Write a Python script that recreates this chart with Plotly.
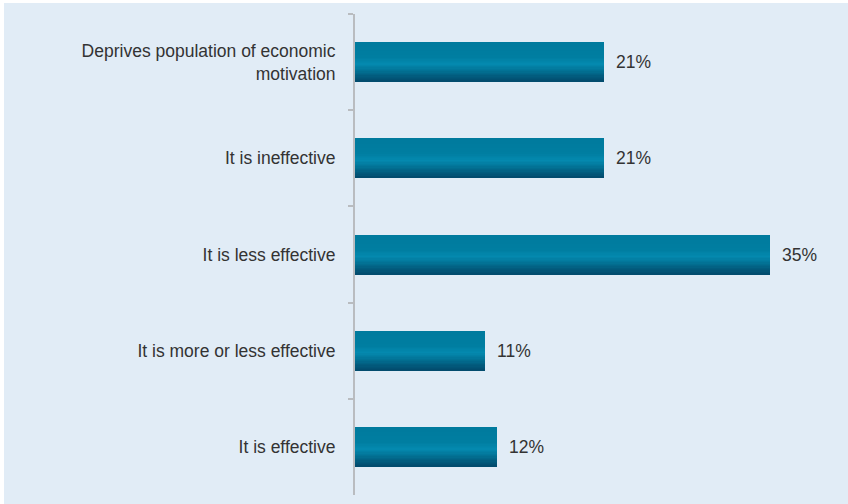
import plotly.graph_objects as go

# Survey answers, top to bottom
categories = [
    "Deprives population of economic<br>motivation",
    "It is ineffective",
    "It is less effective",
    "It is more or less effective",
    "It is effective",
]
values = [21, 21, 35, 11, 12]

# Vertical shading of each bar, from its top edge (0) to its bottom edge (1)
gradient_stops = [
    (0.00, (0, 122, 157)),
    (0.38, (0, 126, 161)),
    (0.55, (4, 137, 175)),
    (0.70, (2, 117, 152)),
    (0.85, (2, 92, 126)),
    (1.00, (2, 74, 108)),
]


def shade(t):
    for (t0, c0), (t1, c1) in zip(gradient_stops, gradient_stops[1:]):
        if t <= t1:
            f = (t - t0) / (t1 - t0)
            r, g, b = (round(a + (b_ - a) * f) for a, b_ in zip(c0, c1))
            return f"rgb({r},{g},{b})"
    r, g, b = gradient_stops[-1][1]
    return f"rgb({r},{g},{b})"


FONT = "Liberation Sans Narrow, Arial Narrow, sans-serif"
BAR_W = 0.415
N_STRIPS = 30
strip_w = BAR_W / N_STRIPS

# each strip runs from its own top edge to the bottom of the bar;
# later strips are painted over earlier ones, so no seams show through
fig = go.Figure()
for i in range(N_STRIPS):
    fig.add_trace(go.Bar(
        x=values,
        y=categories,
        orientation="h",
        width=BAR_W - i * strip_w,
        offset=-BAR_W / 2 + i * strip_w,
        marker=dict(color=shade((i + 0.5) / N_STRIPS), line=dict(width=0)),
        hoverinfo="skip",
        showlegend=False,
    ))

for v, c in zip(values, categories):
    fig.add_annotation(
        x=v, y=c, text=f"{v}%", showarrow=False,
        xanchor="left", xshift=10,
        font=dict(family=FONT, size=17.5, color="#333333"),
    )

W, H = 848, 504
ML, MR, MT, MB = 355, 0, 14, 9
pw = W - ML - MR
ph = H - MT - MB

# thin white frame on the left and top edges of the panel
fig.add_shape(type="rect", xref="paper", yref="paper",
              x0=-ML / pw, x1=(4 - ML) / pw, y0=-MB / ph, y1=1 + MT / ph,
              fillcolor="white", line=dict(width=0), layer="above")
fig.add_shape(type="rect", xref="paper", yref="paper",
              x0=-ML / pw, x1=1, y0=1 + (MT - 3) / ph, y1=1 + MT / ph,
              fillcolor="white", line=dict(width=0), layer="above")

fig.update_layout(
    width=W, height=H,
    margin=dict(l=ML, r=MR, t=MT, b=MB, autoexpand=False),
    paper_bgcolor="#e1ecf6",
    plot_bgcolor="#e1ecf6",
    barmode="overlay",
    bargap=0,
    font=dict(family=FONT, size=17.5, color="#333333"),
    xaxis=dict(visible=False, range=[0, 41.6], fixedrange=True),
    yaxis=dict(
        autorange="reversed",
        showline=True, linecolor="#b9bcc0", linewidth=2,
        ticks="outside", tickson="boundaries", ticklen=5,
        tickcolor="#b9bcc0", tickwidth=1.5,
        ticklabelstandoff=14,
        showgrid=False, zeroline=False,
    ),
)

fig.write_html("out.html")
